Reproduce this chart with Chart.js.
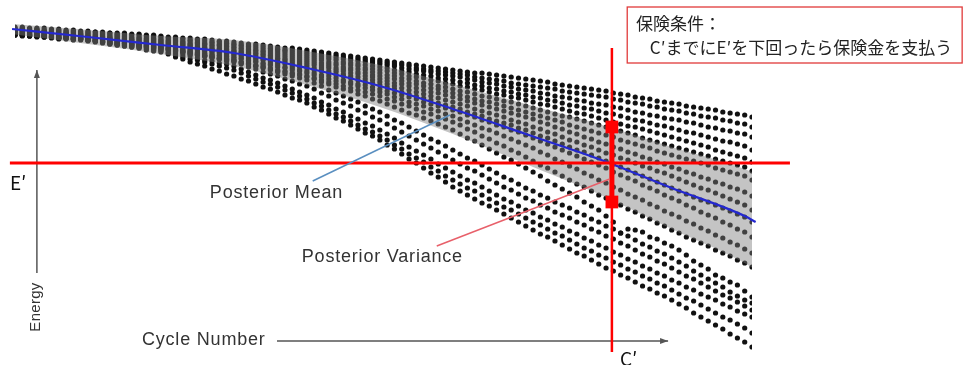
<!DOCTYPE html>
<html>
<head>
<meta charset="utf-8">
<script src="https://cdn.jsdelivr.net/npm/chart.js@4.4.0/dist/chart.umd.min.js"></script>
<style>
  html, body { margin: 0; padding: 0; background: #fff; }
  canvas { display: block; }
</style>
</head>
<body>
<canvas id="chart" width="964" height="365"></canvas>
<script>
// Energy of each cell per cycle (one value per cycle, cycle 0..101)
const traj01 = [323,323,322,322,322,321,321,320,320,319,319,318,318,317,317,317,316,316,315,315,314,313,313,312,312,311,311,310,309,309,308,307,306,306,305,304,303,302,302,301,300,299,298,297,296,295,294,293,292,291,290,289,288,287,286,285,284,283,282,281,280,279,278,277,277,276,275,274,273,272,271,270,269,268,266,265,264,263,262,261,260,259,257,256,255,253,252,251,249,248,247,246,244,243,242,241,240,238,237,236,235,233];
const traj02 = [322,322,321,321,320,320,320,319,319,318,318,318,317,317,316,316,315,315,314,314,313,312,312,311,310,310,309,308,308,307,306,305,304,304,303,302,301,300,300,299,298,297,296,295,294,293,292,291,290,289,288,287,286,285,284,282,281,280,279,278,277,276,275,273,272,271,270,269,267,266,265,264,263,262,261,259,258,257,256,255,254,253,251,250,248,247,246,244,243,241,240,239,237,236,234,233,232,230,229,227,226,223];
const traj03 = [321,321,320,320,319,319,319,318,318,317,317,316,316,315,315,314,313,313,312,312,311,310,310,309,309,308,307,307,306,306,305,304,303,302,301,301,300,299,298,297,296,295,294,293,292,291,290,289,288,287,286,285,284,282,281,280,279,278,276,275,274,273,271,270,268,267,266,264,263,261,260,259,257,256,254,253,252,250,249,247,246,245,243,242,240,238,237,235,234,232,231,230,228,227,225,223,222,220,219,217,216,213];
const traj04 = [321,321,320,320,319,318,318,317,317,316,316,315,315,314,314,313,312,312,311,311,310,309,309,308,307,307,306,305,305,304,303,302,301,300,299,299,298,297,296,295,294,293,292,291,290,288,287,286,285,284,283,282,280,279,278,276,275,274,272,271,270,268,267,265,264,262,261,259,258,256,255,253,252,250,249,247,245,244,242,241,239,237,236,234,232,230,229,227,225,224,222,220,218,217,215,213,211,209,208,206,204,200];
const traj05 = [320,320,319,319,318,318,317,317,316,316,315,314,314,313,313,312,311,311,310,310,309,308,308,307,306,306,305,304,304,303,302,301,300,299,298,297,296,295,294,293,292,291,290,288,287,286,285,284,282,281,280,279,277,276,274,273,272,270,269,267,266,264,263,261,260,258,256,255,253,252,250,248,246,245,243,241,239,237,236,234,232,230,228,226,224,223,221,219,217,215,213,211,209,207,205,203,200,198,196,194,192,188];
const traj06 = [320,319,319,318,318,317,316,316,315,315,314,313,313,312,312,311,310,310,309,309,308,307,306,306,305,304,303,302,302,301,300,299,298,297,296,295,294,293,292,291,290,289,287,286,285,283,282,281,280,278,277,275,274,272,271,269,267,266,264,263,261,259,258,256,254,253,251,249,248,246,244,242,240,238,236,234,233,231,229,227,225,223,221,219,217,215,212,210,208,206,204,202,200,198,196,194,191,189,187,185,183,179];
const traj07 = [319,319,318,318,317,317,316,316,315,315,314,313,313,312,311,311,310,309,309,308,307,306,305,305,304,303,302,301,301,300,299,298,297,296,295,294,292,291,290,289,288,287,285,284,282,281,280,278,277,275,274,272,271,269,267,266,264,262,261,259,257,255,253,251,249,248,246,244,242,240,238,236,234,232,230,228,225,223,221,219,217,215,213,210,208,206,204,202,199,197,195,193,191,189,187,185,182,180,178,176,174,170];
const traj08 = [319,318,318,317,317,316,315,315,314,314,313,312,312,311,310,310,309,308,308,307,306,305,304,304,303,302,301,300,300,299,298,297,296,294,293,292,291,290,288,287,286,285,283,282,280,279,277,276,274,273,271,269,267,266,264,262,260,258,257,255,253,251,249,247,245,243,241,239,237,235,233,231,228,226,223,221,218,216,213,211,208,206,203,201,198,196,193,191,188,186,183,181,178,176,173,171,168,166,163,161,158,154];
const traj09 = [318,318,317,317,316,316,315,315,314,314,313,312,311,311,310,309,308,307,307,306,305,304,303,302,301,301,300,299,298,297,296,295,294,292,291,290,289,288,286,285,284,282,281,279,278,276,274,273,271,270,268,266,264,262,260,258,256,254,252,250,248,246,244,241,239,237,235,233,230,228,226,223,221,218,216,213,210,208,205,203,200,197,195,192,190,187,184,182,179,177,174,171,168,165,162,160,157,154,151,148,145,140];
const traj10 = [318,317,317,316,316,315,314,314,313,313,312,311,310,310,309,308,307,306,306,305,304,303,302,301,300,300,299,298,297,296,295,294,292,291,290,288,287,286,284,283,282,280,279,277,275,274,272,270,268,267,265,263,261,258,256,254,252,250,247,245,243,241,238,236,234,231,229,227,225,222,220,217,214,212,209,206,203,200,198,195,192,189,186,183,180,177,174,171,168,165,162,159,156,153,150,148,145,142,139,136,133,128];
const traj11 = [317,317,316,316,315,315,314,314,313,313,312,311,310,309,308,308,307,306,305,304,303,302,301,300,299,298,297,296,295,294,293,292,290,289,287,286,285,283,282,280,279,277,275,274,272,270,268,266,265,263,261,259,257,255,253,251,248,246,244,242,240,238,235,233,230,228,225,223,220,218,215,212,209,206,203,200,197,194,191,188,185,182,178,175,172,169,165,162,159,155,152,149,145,142,138,135,132,128,125,121,118,113];
const traj12 = [317,316,316,315,315,314,313,313,312,312,311,310,309,308,307,307,306,305,304,303,302,301,300,299,298,297,296,295,294,293,292,291,289,288,286,285,283,282,280,279,277,275,273,271,269,268,266,264,262,260,258,256,253,251,248,246,244,241,239,236,234,231,228,225,222,220,217,214,211,208,205,202,198,195,191,188,184,181,177,174,170,167,163,160,156,153,150,146,143,139,136,133,129,126,122,119,115,112,108,105,101,97];
const traj13 = [316,315,315,314,314,313,312,312,311,311,310,309,308,307,306,306,305,304,303,302,301,300,299,298,297,296,294,293,292,291,290,288,287,285,284,282,280,279,277,276,274,272,270,268,266,264,262,260,258,256,254,251,249,246,244,241,238,236,233,231,228,225,221,218,214,211,207,204,200,197,193,189,185,182,178,174,170,166,163,159,155,152,148,145,141,138,134,131,127,124,120,117,113,110,107,104,100,97,94,90,87,83];
const traj14 = [316,315,315,314,314,313,312,312,311,311,310,309,308,307,306,306,305,304,303,302,301,300,299,297,296,295,294,293,291,290,289,287,286,284,283,281,279,278,276,275,273,271,268,266,263,261,259,256,254,251,249,246,243,240,237,235,232,229,226,223,220,216,212,209,205,201,197,193,190,186,182,178,174,169,165,161,157,153,148,144,140,134,128,117,121,120,118,113,111,107,104,100,95,89,85,81,75,72,68,65,59,53];
const traj15 = [316,316,315,315,314,314,313,313,312,312,311,310,309,309,308,307,306,305,305,304,303,302,300,299,298,296,295,294,292,291,290,288,286,284,282,280,278,276,274,272,270,267,264,260,257,254,251,248,244,241,238,234,230,227,223,219,215,211,208,204,200,196,192,189,185,181,177,173,170,166,162,159,155,152,148,145,142,138,135,131,128,124,121,117,114,110,106,103,99,96,92,88,84,79,75,71,67,63,58,54,50,47];
const traj16 = [316,315,315,314,314,313,312,312,311,311,310,309,308,308,307,306,305,304,304,303,302,301,299,298,296,295,294,292,291,289,288,286,283,281,278,276,274,271,269,266,264,261,257,254,250,247,244,240,237,233,230,226,222,218,214,210,206,202,198,194,190,186,182,179,175,171,167,163,160,156,152,149,145,142,138,135,132,128,125,121,118,114,111,107,104,100,96,93,89,86,82,78,74,71,67,63,59,55,52,48,44,40];
const traj17 = [315,315,314,314,313,313,312,312,311,311,310,309,308,307,306,305,304,303,302,301,300,298,297,295,294,292,290,289,287,286,284,281,278,275,272,270,267,264,261,258,255,252,248,245,241,238,234,231,227,224,220,216,212,207,203,199,195,191,186,182,178,174,170,167,163,159,155,151,148,144,140,137,133,130,126,123,119,116,112,109,105,102,98,95,91,88,84,81,77,74,70,67,63,60,56,53,50,46,43,39,36,33];
const traj18 = [315,314,314,313,313,312,311,311,310,310,309,308,307,306,305,304,303,302,301,300,299,297,295,293,291,290,288,286,284,282,280,277,274,271,268,266,263,260,257,254,251,247,244,240,236,233,229,225,221,218,214,210,205,201,196,192,188,183,179,174,170,166,162,159,155,151,147,143,140,136,132,128,125,121,117,114,110,106,102,99,95,92,88,85,81,78,74,71,67,64,60,56,52,49,45,41,37,33,30,26,22,17];
const traj19 = [315,315,314,314,313,313,312,312,311,311,310,309,308,306,305,304,303,302,300,299,298,296,293,291,288,286,284,281,279,276,274,271,269,266,263,261,258,255,252,250,247,243,240,236,232,229,225,221,217,214,210,205,201,196,191,187,182,177,173,168,163,159,155,151,147,144,140,136,132,128,124,120,116,113,109,105,101,97,94,90,86,82,79,75,72,68,64,61,57,54,50,46,42,37,33,29,25,21,16,12,8,3];

// Posterior mean and variance band
const meanCycles  = [-0.4, 10, 20, 30, 40, 50, 60, 70, 80, 90, 100, 101.5];
const meanEnergy  = [321, 313, 305, 297, 282, 264, 241, 216, 191, 162, 134, 128];
const bandUpper   = [326, 320, 314, 310, 299, 285, 266, 246, 226, 203, 181, 176];
const bandLower   = [316, 306, 296, 284, 265, 243, 216, 186, 156, 121, 87, 80];

// Insurance condition
const ePrime = 187;            // energy threshold E'
const cPrime = 81.8;           // cycle limit C'
const ePrimeSpan = [-0.7, 106.2];
const cPrimeSpan = [-2, 302];
const varianceMarks = [223, 148];

const allTraj = [traj01, traj02, traj03, traj04, traj05, traj06, traj07, traj08, traj09, traj10,
                 traj11, traj12, traj13, traj14, traj15, traj16, traj17, traj18, traj19];

const toPts = (xs, ys) => xs.map((x, i) => ({ x, y: ys[i] }));

const dotSets = allTraj.map(t => ({
    data: t.map((v, i) => ({ x: i, y: v })),
    showLine: false,
    pointRadius: 2.6,
    pointBackgroundColor: '#111',
    pointBorderWidth: 0,
    order: 3
}));

// Hand-drawn diagram notes (arrows, labels, callout)
const diagramNotes = {
    id: 'diagramNotes',
    beforeDatasetsDraw(chart) {
        const { ctx, scales } = chart;
        const px = c => scales.x.getPixelForValue(c);
        const py = e => scales.y.getPixelForValue(e);
        ctx.save();

        const arrow = (x1, y1, x2, y2) => {
            ctx.strokeStyle = '#555';
            ctx.fillStyle = '#555';
            ctx.lineWidth = 1.5;
            ctx.beginPath();
            ctx.moveTo(x1, y1);
            ctx.lineTo(x2, y2);
            ctx.stroke();
            const a = Math.atan2(y2 - y1, x2 - x1);
            ctx.beginPath();
            ctx.moveTo(x2, y2);
            ctx.lineTo(x2 - 8 * Math.cos(a) + 3 * Math.sin(a), y2 - 8 * Math.sin(a) - 3 * Math.cos(a));
            ctx.lineTo(x2 - 8 * Math.cos(a) - 3 * Math.sin(a), y2 - 8 * Math.sin(a) + 3 * Math.cos(a));
            ctx.closePath();
            ctx.fill();
        };
        arrow(px(3.0), py(77), px(3.0), py(280));
        arrow(px(35.9), py(9), px(89.5), py(9));

        ctx.fillStyle = '#333';
        ctx.font = '18px "Liberation Sans", Arial, sans-serif';
        ctx.letterSpacing = '0.8px';
        ctx.textBaseline = 'middle';
        ctx.textAlign = 'left';
        ctx.fillText('Cycle Number', px(17.4), py(10));
        ctx.fillText('Posterior Mean', px(26.7), py(157));
        ctx.fillText('Posterior Variance', px(39.3), py(93));

        ctx.save();
        ctx.translate(px(2.9), py(43));
        ctx.rotate(-Math.PI / 2);
        ctx.font = '15px "Liberation Sans", Arial, sans-serif';
        ctx.letterSpacing = '0.3px';
        ctx.textAlign = 'center';
        ctx.fillText('Energy', 0, 0);
        ctx.restore();

        ctx.letterSpacing = '0px';
        ctx.fillStyle = '#111';
        ctx.font = '19px "Noto Sans CJK JP", sans-serif';
        ctx.textBaseline = 'alphabetic';
        ctx.fillText('E′', px(-0.7), py(160));
        ctx.fillText('C′', px(82.9), py(-16));

        // callout
        const bx = px(83.9), by = py(343);
        ctx.strokeStyle = '#e03a3a';
        ctx.lineWidth = 1.3;
        ctx.strokeRect(bx, by, px(129.8) - bx, py(287) - by);
        ctx.fillStyle = '#222';
        ctx.font = '17px "Noto Sans CJK JP", sans-serif';
        ctx.fillText('保険条件：', px(85.1), py(320));
        ctx.fillText('C′までにE′を下回ったら保険金を支払う', px(87.0), py(296));
        ctx.restore();
    },
    afterDatasetsDraw(chart) {
        const { ctx, scales } = chart;
        const px = c => scales.x.getPixelForValue(c);
        const py = e => scales.y.getPixelForValue(e);
        ctx.save();
        ctx.lineWidth = 1.5;
        ctx.strokeStyle = '#5a8fc0';
        ctx.beginPath();
        ctx.moveTo(px(40.8), py(169));
        ctx.lineTo(px(59.6), py(235));
        ctx.stroke();
        ctx.strokeStyle = '#e8606a';
        ctx.beginPath();
        ctx.moveTo(px(57.8), py(104));
        ctx.lineTo(px(81.5), py(171));
        ctx.stroke();
        ctx.restore();
    }
};

new Chart(document.getElementById('chart'), {
    type: 'line',
    data: {
        datasets: [
            {   // E' threshold
                data: toPts(ePrimeSpan, [ePrime, ePrime]),
                borderColor: '#ff0000', borderWidth: 3, pointRadius: 0, clip: false, order: 0
            },
            {   // C' limit
                data: toPts([cPrime, cPrime], cPrimeSpan),
                borderColor: '#ff0000', borderWidth: 2.5, pointRadius: 0, clip: false, order: 0
            },
            {   // variance bar at C'
                data: toPts([cPrime, cPrime], varianceMarks),
                borderColor: '#ff0000', borderWidth: 5, pointRadius: 9, pointStyle: 'rect',
                pointBackgroundColor: '#ff0000', pointBorderWidth: 0, clip: false, order: 0
            },
            {   // posterior mean
                data: toPts(meanCycles, meanEnergy),
                borderColor: '#2428d0', borderWidth: 2.2, pointRadius: 0,
                cubicInterpolationMode: 'monotone', clip: false, order: 1
            },
            {   // posterior variance band
                data: toPts(meanCycles, bandUpper),
                borderWidth: 0, pointRadius: 0, cubicInterpolationMode: 'monotone',
                backgroundColor: 'rgba(125,125,125,0.45)', fill: '+1', clip: false, order: 2
            },
            {
                data: toPts(meanCycles, bandLower),
                borderWidth: 0, pointRadius: 0, cubicInterpolationMode: 'monotone',
                fill: false, clip: false, order: 2
            },
            ...dotSets
        ]
    },
    options: {
        responsive: false,
        animation: false,
        devicePixelRatio: 1,
        events: [],
        layout: { padding: { left: 15, right: 212, top: 10, bottom: 15 } },
        plugins: { legend: { display: false }, tooltip: { enabled: false } },
        scales: {
            x: { type: 'linear', min: 0, max: 101, display: false },
            y: { min: 0, max: 340, display: false }
        }
    },
    plugins: [diagramNotes]
});
</script>
</body>
</html>
